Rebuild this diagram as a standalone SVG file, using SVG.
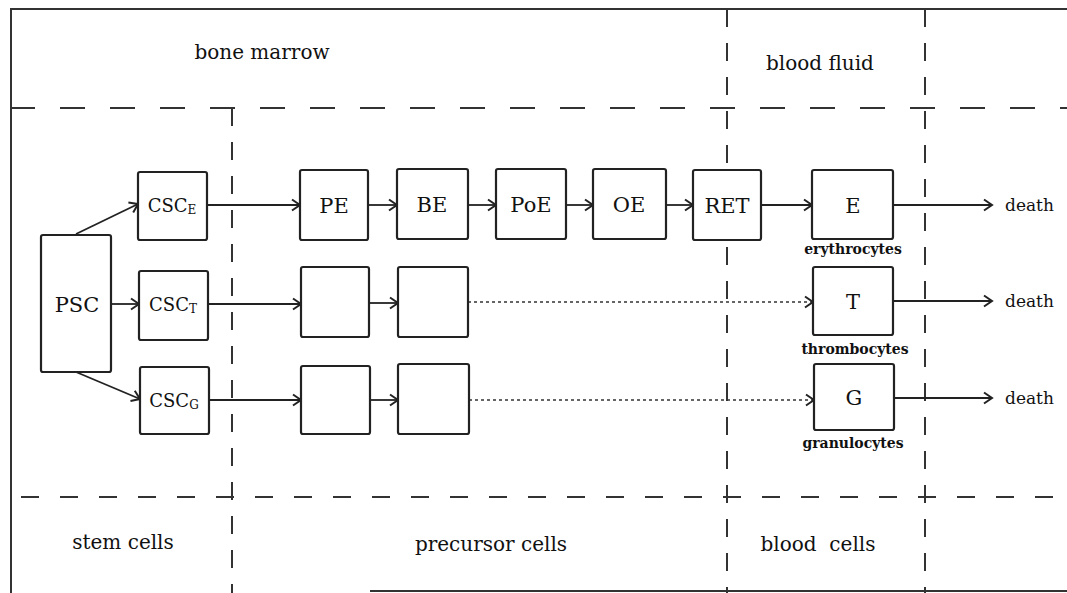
<svg xmlns="http://www.w3.org/2000/svg" width="1067" height="593" viewBox="0 0 1067 593">
<defs>
<marker id="arr" markerUnits="userSpaceOnUse" markerWidth="12" markerHeight="14" refX="10" refY="7" orient="auto">
<path d="M2,1.5 L10,7 L2,12.5" fill="none" stroke="#222" stroke-width="2"/>
</marker>
<style>
.frame{stroke:#333;stroke-width:2;fill:none}
.dh{stroke:#333;stroke-width:2;fill:none;stroke-dasharray:25 25}
.dh2{stroke:#333;stroke-width:2;fill:none;stroke-dasharray:18 21}
.dv{stroke:#333;stroke-width:2;fill:none;stroke-dasharray:18 16}
.box{fill:#fff;stroke:#222;stroke-width:2.2}
.con{stroke:#222;stroke-width:1.8;fill:none;marker-end:url(#arr)}
.dot{stroke:#333;stroke-width:1.6;fill:none;stroke-dasharray:3 3;marker-end:url(#arr)}
text{font-family:"DejaVu Serif","Liberation Serif",serif;fill:#111}
.lab{font-size:21px;text-anchor:middle}
.csc{font-size:18px;text-anchor:middle}
.reg{font-size:20px;text-anchor:middle}
.small{font-size:14px;font-weight:bold;text-anchor:middle}
.death{font-size:17px}
</style>
</defs>
<g id="frame">
<line class="frame" x1="11" y1="9" x2="1067" y2="9"/>
<line class="frame" x1="11" y1="8" x2="11" y2="593"/>
<line class="frame" x1="370" y1="591" x2="1067" y2="591"/>
<line class="dh" x1="11" y1="108" x2="1067" y2="108" stroke-dashoffset="1"/>
<line class="dh2" x1="11" y1="497" x2="1067" y2="497" stroke-dashoffset="-10"/>
<line class="dv" x1="232" y1="108" x2="232" y2="593"/>
<line class="dv" x1="727" y1="9" x2="727" y2="593"/>
<line class="dv" x1="925" y1="9" x2="925" y2="593"/>
</g>
<g id="region-labels">
<text class="reg" x="262" y="59">bone marrow</text>
<text class="reg" x="820" y="70">blood fluid</text>
<text class="reg" x="123" y="549">stem cells</text>
<text class="reg" x="491" y="551">precursor cells</text>
<text class="reg" x="818" y="551" xml:space="preserve">blood  cells</text>
</g>
<g id="connectors">
<line class="con" x1="76" y1="234" x2="138" y2="204"/>
<line class="con" x1="111" y1="304" x2="139" y2="304"/>
<line class="con" x1="76" y1="372" x2="140" y2="399"/>
<line class="con" x1="207" y1="205" x2="300" y2="205"/>
<line class="con" x1="368" y1="205" x2="397" y2="205"/>
<line class="con" x1="468" y1="205" x2="496" y2="205"/>
<line class="con" x1="566" y1="205" x2="593" y2="205"/>
<line class="con" x1="666" y1="205" x2="693" y2="205"/>
<line class="con" x1="761" y1="205" x2="812" y2="205"/>
<line class="con" x1="893" y1="205" x2="992" y2="205"/>
<line class="con" x1="208" y1="304" x2="301" y2="304"/>
<line class="con" x1="369" y1="303" x2="398" y2="303"/>
<line class="dot" x1="468" y1="302" x2="813" y2="302"/>
<line class="con" x1="893" y1="301" x2="992" y2="301"/>
<line class="con" x1="209" y1="400" x2="301" y2="400"/>
<line class="con" x1="370" y1="400" x2="398" y2="400"/>
<line class="dot" x1="469" y1="400" x2="814" y2="400"/>
<line class="con" x1="894" y1="398" x2="992" y2="398"/>
</g>
<g id="PSC"><rect class="box" x="41" y="235" width="70" height="137" rx="2"/><text class="lab" x="77" y="312" font-size="22">PSC</text></g>
<g id="CSC_E"><rect class="box" x="138" y="172" width="69" height="68" rx="2"/><text class="csc" x="172" y="212">CSC<tspan font-size="12" dy="2">E</tspan></text></g>
<g id="CSC_T"><rect class="box" x="139" y="271" width="69" height="69" rx="2"/><text class="csc" x="173" y="311">CSC<tspan font-size="12" dy="2">T</tspan></text></g>
<g id="CSC_G"><rect class="box" x="140" y="367" width="69" height="67" rx="2"/><text class="csc" x="174" y="407">CSC<tspan font-size="12" dy="2">G</tspan></text></g>
<g id="PE"><rect class="box" x="300" y="170" width="68" height="70" rx="2"/><text class="lab" x="334" y="213">PE</text></g>
<g id="BE"><rect class="box" x="397" y="169" width="71" height="70" rx="2"/><text class="lab" x="432" y="212">BE</text></g>
<g id="PoE"><rect class="box" x="496" y="169" width="70" height="70" rx="2"/><text class="lab" x="531" y="212">PoE</text></g>
<g id="OE"><rect class="box" x="593" y="169" width="73" height="70" rx="2"/><text class="lab" x="629" y="212">OE</text></g>
<g id="RET"><rect class="box" x="693" y="170" width="68" height="70" rx="2"/><text class="lab" x="727" y="213">RET</text></g>
<g id="E"><rect class="box" x="812" y="170" width="81" height="69" rx="2"/><text class="lab" x="853" y="213">E</text><text class="small" x="853" y="254">erythrocytes</text></g>
<g id="PT1"><rect class="box" x="301" y="267" width="68" height="70" rx="2"/></g>
<g id="PT2"><rect class="box" x="398" y="267" width="70" height="70" rx="2"/></g>
<g id="T"><rect class="box" x="813" y="267" width="80" height="68" rx="2"/><text class="lab" x="853" y="309">T</text><text class="small" x="855" y="354">thrombocytes</text></g>
<g id="PG1"><rect class="box" x="301" y="366" width="69" height="68" rx="2"/></g>
<g id="PG2"><rect class="box" x="398" y="364" width="71" height="70" rx="2"/></g>
<g id="G"><rect class="box" x="814" y="364" width="80" height="66" rx="2"/><text class="lab" x="854" y="405">G</text><text class="small" x="853" y="448">granulocytes</text></g>
<g id="deaths">
<text class="death" x="1005" y="211">death</text>
<text class="death" x="1005" y="307">death</text>
<text class="death" x="1005" y="404">death</text>
</g>
</svg>
